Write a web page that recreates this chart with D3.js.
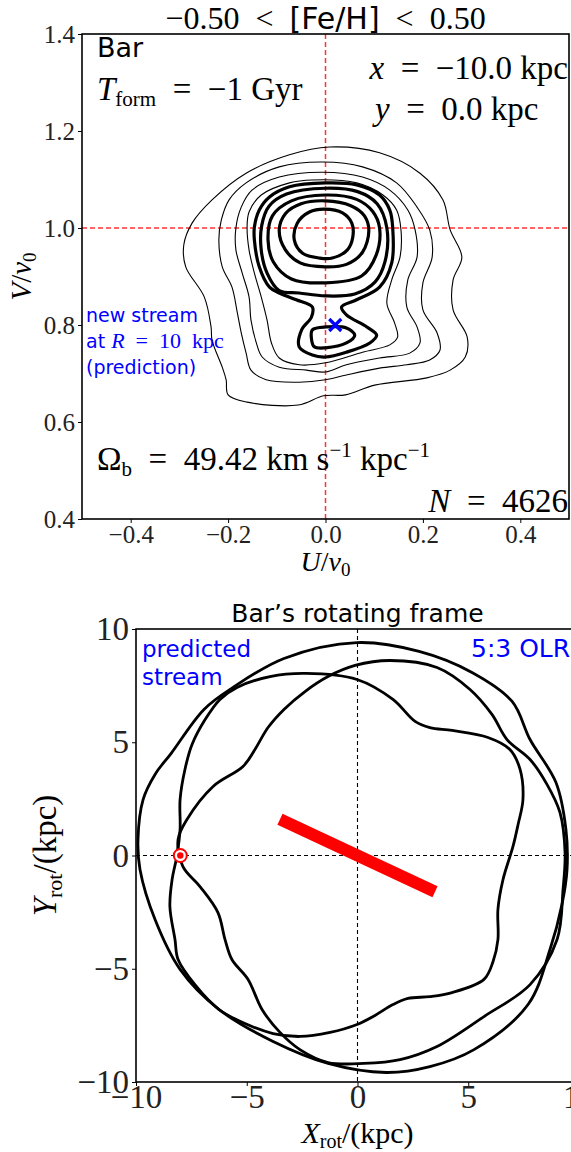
<!DOCTYPE html>
<html><head><meta charset="utf-8">
<script src="https://cdn.jsdelivr.net/npm/d3@7"></script>
<style>
html,body{margin:0;padding:0;background:#fff;}
svg{display:block;}
</style></head>
<body>
<svg id="fig" width="571" height="1152"></svg>
<script>
// ---------- Top panel data: velocity-plane contours (U/v0, V/v0) ----------
const uTicks = [-0.4, -0.2, 0.0, 0.2, 0.4];
const vTicks = [0.4, 0.6, 0.8, 1.0, 1.2, 1.4];
const thinContours = [
  [[0.008,1.167],[0.111,1.155],[0.194,1.113],[0.241,1.058],[0.256,0.996],[0.280,0.940],[0.262,0.893],[0.262,0.831],[0.291,0.775],[0.287,0.734],[0.256,0.707],[0.208,0.691],[0.101,0.676],[0.041,0.656],[-0.004,0.654],[-0.056,0.635],[-0.161,0.641],[-0.200,0.656],[-0.204,0.687],[-0.212,0.713],[-0.233,0.769],[-0.235,0.796],[-0.249,0.858],[-0.287,0.920],[-0.291,0.965],[-0.274,1.010],[-0.233,1.058],[-0.163,1.113],[-0.074,1.151]],
  [[-0.006,1.136],[0.076,1.126],[0.146,1.093],[0.188,1.043],[0.214,0.996],[0.219,0.940],[0.200,0.887],[0.200,0.831],[0.229,0.784],[0.235,0.748],[0.214,0.728],[0.167,0.718],[0.111,0.711],[0.043,0.697],[0,0.687],[-0.054,0.682],[-0.122,0.687],[-0.153,0.707],[-0.163,0.742],[-0.173,0.784],[-0.181,0.825],[-0.192,0.878],[-0.212,0.920],[-0.219,0.975],[-0.214,1.016],[-0.198,1.058],[-0.163,1.093],[-0.095,1.126]],
  [[-0.006,1.115],[0.076,1.105],[0.132,1.078],[0.169,1.037],[0.184,0.996],[0.188,0.940],[0.169,0.893],[0.167,0.837],[0.188,0.796],[0.194,0.763],[0.173,0.742],[0.111,0.732],[0.043,0.718],[0,0.703],[-0.039,0.707],[-0.095,0.713],[-0.130,0.734],[-0.142,0.763],[-0.153,0.810],[-0.157,0.858],[-0.171,0.907],[-0.184,0.955],[-0.184,1.000],[-0.173,1.043],[-0.151,1.078],[-0.095,1.105]],
  [[-0.027,1.099],[0.064,1.093],[0.118,1.068],[0.146,1.037],[0.155,0.996],[0.153,0.940],[0.136,0.893],[0.126,0.845],[0.142,0.804],[0.148,0.775],[0.132,0.759],[0.076,0.744],[0,0.722],[-0.054,0.718],[-0.095,0.732],[-0.111,0.763],[-0.120,0.810],[-0.132,0.858],[-0.146,0.907],[-0.157,0.955],[-0.161,1.000],[-0.157,1.033],[-0.132,1.068],[-0.074,1.093]]
];
const thickContours = [
  [[0,1.093],[0.064,1.089],[0.111,1.068],[0.132,1.037],[0.138,1.000],[0.136,0.928],[0.111,0.878],[0.064,0.852],[0.033,0.837],[0.043,0.821],[0.085,0.796],[0.105,0.779],[0.091,0.763],[0.043,0.744],[0,0.734],[-0.027,0.738],[-0.054,0.755],[-0.049,0.790],[-0.029,0.816],[-0.027,0.837],[-0.060,0.852],[-0.095,0.866],[-0.115,0.878],[-0.136,0.920],[-0.146,0.975],[-0.146,1.002],[-0.136,1.037],[-0.115,1.064],[-0.074,1.085]],
  [[0,1.082],[0.066,1.075],[0.106,1.050],[0.126,1.000],[0.122,0.930],[0.102,0.889],[0.060,0.864],[0,0.860],[-0.054,0.866],[-0.095,0.871],[-0.120,0.907],[-0.132,0.955],[-0.131,1.005],[-0.116,1.045],[-0.080,1.070]],
  [[-0.027,0.790],[0.002,0.796],[0.043,0.794],[0.060,0.779],[0.043,0.763],[0,0.753],[-0.023,0.755],[-0.029,0.773]],
  [[0,1.068],[0.064,1.059],[0.097,1.034],[0.111,1.000],[0.104,0.944],[0.074,0.901],[0,0.887],[-0.070,0.895],[-0.107,0.930],[-0.118,0.975],[-0.109,1.025],[-0.070,1.056]],
  [[0,1.056],[0.052,1.046],[0.080,1.025],[0.089,0.995],[0.076,0.950],[0.043,0.925],[0,0.920],[-0.052,0.928],[-0.083,0.956],[-0.095,0.996],[-0.082,1.030],[-0.050,1.050]],
  [[-0.002,1.039],[0.035,1.031],[0.054,1.010],[0.056,0.981],[0.045,0.955],[0.014,0.938],[-0.012,0.938],[-0.047,0.948],[-0.064,0.975],[-0.058,1.010],[-0.033,1.033]]
];
const streamPoint = [0.02, 0.80];
const refU = 0.0, refV = 1.0;

// ---------- Bottom panel data: orbit in bar's rotating frame (kpc) ----------
const xrotTicks = [-10, -5, 0, 5, 10];
const yrotTicks = [-10, -5, 0, 5, 10];
const orbitOuter = [[-0.02,9.40],[2.78,9.01],[5.17,8.08],[6.98,6.80],[7.79,5.12],[8.96,3.22],[9.41,1.15],[9.46,-0.62],[9.23,-2.16],[8.69,-4.15],[7.70,-6.58],[5.26,-8.57],[3.27,-9.32],[1.29,-9.58],[-1.33,-9.18],[-3.81,-8.21],[-6.25,-6.80],[-8.01,-5.03],[-9.14,-2.83],[-9.82,-0.62],[-9.91,0.71],[-9.68,2.47],[-9.14,3.58],[-8.42,4.50],[-6.93,6.45],[-5.62,7.42],[-3.32,8.70]];
const orbitMiddle = [[1.47,8.61],[3.59,8.30],[5.08,7.33],[6.07,6.23],[6.75,5.12],[7.79,4.24],[8.56,3.13],[9.14,1.90],[9.37,0.13],[9.28,-1.50],[9.01,-3.71],[7.79,-5.70],[5.71,-7.11],[3.59,-8.43],[1.92,-9.01],[0.29,-9.18],[-1.33,-9.14],[-2.60,-8.57],[-3.50,-7.81],[-4.31,-6.80],[-4.94,-5.47],[-5.67,-4.59],[-5.98,-3.71],[-6.30,-2.52],[-7.11,-1.37],[-7.88,-0.49],[-8.10,0.71],[-7.70,1.59],[-6.52,3.05],[-5.17,3.93],[-4.63,4.68],[-4.04,5.65],[-3.32,6.45],[-2.37,7.24],[-1.33,7.90],[-0.11,8.39]];
const orbitInner = [[-2.33,8.04],[-0.02,7.77],[1.60,6.89],[2.60,5.92],[3.27,5.65],[4.27,5.52],[5.89,5.21],[6.88,4.68],[7.34,3.80],[7.47,2.47],[7.25,1.37],[7.02,0.40],[6.57,-1.06],[6.34,-2.38],[6.34,-3.71],[6.12,-4.68],[5.71,-5.47],[4.27,-6.05],[3.27,-6.23],[2.28,-6.31],[1.60,-6.58],[0.79,-7.06],[-0.02,-7.46],[-1.24,-7.81],[-2.60,-7.99],[-3.81,-7.86],[-5.08,-7.42],[-6.25,-6.80],[-7.34,-5.70],[-8.10,-4.59],[-8.24,-3.71],[-8.47,-2.25],[-8.37,-1.06],[-8.15,0],[-8.01,1.15],[-8.01,2.47],[-7.79,3.80],[-7.47,4.90],[-6.88,6.00],[-6.21,6.89],[-5.44,7.42],[-3.95,7.90]];
const orbitLoops = [orbitOuter, orbitMiddle, orbitInner];
const barEnds = [[-3.5, 1.6], [3.5, -1.6]];
const sunPos = [-8.0, 0.0];

// ---------- drawing ----------
const svg = d3.select("#fig");
const serif = '"Liberation Serif","DejaVu Serif",serif';
const sans = '"DejaVu Sans","Noto Sans",sans-serif';
const EN = "\u2002";

function addText(g, x, y, parts, opts = {}) {
  const t = g.append("text").attr("x", x).attr("y", y).attr("font-size", opts.size || 26)
    .attr("text-anchor", opts.anchor || "start").attr("fill", opts.fill || "#000")
    .style("white-space", "pre");
  if (opts.rotate) t.attr("transform", `rotate(${opts.rotate},${x},${y})`);
  parts.forEach(p => {
    const s = t.append("tspan").text(p.t).attr("font-family", p.f === "s" ? sans : serif);
    if (p.i) s.attr("font-style", "italic");
    if (p.sz) s.attr("font-size", p.sz);
    if (p.dy) s.attr("dy", p.dy);
  });
  return t;
}
const minus = s => s.replace("-", "\u2212");

// Top panel scales
const xU = d3.scaleLinear().domain([-0.5, 0.5]).range([82, 569]);
const yV = d3.scaleLinear().domain([0.4, 1.4]).range([519, 34]);
const gTop = svg.append("g");

gTop.append("line").attr("x1", xU(refU)).attr("x2", xU(refU)).attr("y1", yV(1.4)).attr("y2", yV(0.4))
  .attr("stroke", "#f33").attr("stroke-width", 1.5).attr("stroke-dasharray", "5,3");
gTop.append("line").attr("x1", xU(-0.5)).attr("x2", xU(0.5)).attr("y1", yV(refV)).attr("y2", yV(refV))
  .attr("stroke", "#f33").attr("stroke-width", 1.5).attr("stroke-dasharray", "5,3");

const cline = d3.line().x(d => xU(d[0])).y(d => yV(d[1])).curve(d3.curveCatmullRomClosed.alpha(0.5));
gTop.selectAll("path.thin").data(thinContours).join("path").attr("class", "thin")
  .attr("d", cline).attr("fill", "none").attr("stroke", "#000").attr("stroke-width", 1.1);
gTop.selectAll("path.thick").data(thickContours).join("path").attr("class", "thick")
  .attr("d", cline).attr("fill", "none").attr("stroke", "#000").attr("stroke-width", 3.2);

const sx = xU(streamPoint[0]), sy = yV(streamPoint[1]);
gTop.append("path").attr("d", `M${sx-6},${sy-6}L${sx+6},${sy+6}M${sx-6},${sy+6}L${sx+6},${sy-6}`)
  .attr("stroke", "#0000ff").attr("stroke-width", 3.2).attr("fill", "none");

const axL = d3.axisLeft(yV).tickValues(vTicks).tickFormat(d3.format(".1f")).tickSize(4).tickPadding(3);
const axB = d3.axisBottom(xU).tickValues(uTicks).tickFormat(d => minus(d3.format(".1f")(d))).tickSize(4).tickPadding(3);
const gL = gTop.append("g").attr("transform", `translate(${xU(-0.5)},0)`).call(axL);
const gB = gTop.append("g").attr("transform", `translate(0,${yV(0.4)})`).call(axB);
[gL, gB].forEach(g => {
  g.select(".domain").remove();
  g.selectAll("text").attr("font-family", serif).attr("font-size", 25).attr("fill", "#222");
  g.selectAll("line").attr("stroke", "#000").attr("stroke-width", 1);
});
gB.selectAll("text").attr("dy", "0.68em");
gTop.append("rect").attr("x", xU(-0.5)).attr("y", yV(1.4)).attr("width", xU(0.5) - xU(-0.5)).attr("height", yV(0.4) - yV(1.4))
  .attr("fill", "none").attr("stroke", "#000").attr("stroke-width", 1.6);

addText(gTop, xU(0), 29, [{t:"\u22120.50" + EN + "<" + EN}, {t:"[Fe/H]", f:"s", sz:30}, {t:EN + "<" + EN + "0.50"}], {anchor:"middle", size:32});
addText(gTop, 97, 57, [{t:"Bar", f:"s"}], {size:27});
addText(gTop, 97, 100, [{t:"T", i:1}, {t:"form", sz:21, dy:6}, {t:EN + "=" + EN + "\u22121 Gyr", dy:-6}], {size:33});
addText(gTop, 568, 79, [{t:"x", i:1}, {t:EN + "=" + EN + "\u221210.0 kpc"}], {anchor:"end", size:33});
addText(gTop, 375, 120, [{t:"y", i:1}, {t:EN + "=" + EN + "0.0 kpc"}], {size:33});
addText(gTop, 97, 470, [{t:"\u03a9"}, {t:"b", sz:21, dy:6}, {t:EN + "=" + EN + "49.42 km s", dy:-6}, {t:"\u22121", sz:21, dy:-13}, {t:" kpc", dy:13}, {t:"\u22121", sz:21, dy:-13}], {size:33});
addText(gTop, 568, 512, [{t:"N", i:1}, {t:EN + "=" + EN + "4626"}], {anchor:"end", size:33});
addText(gTop, 86, 322, [{t:"new stream", f:"s"}], {size:19, fill:"#0000ff"});
addText(gTop, 86, 348, [{t:"at ", f:"s"}, {t:"R", i:1, sz:22}, {t:EN + "=" + EN + "10" + EN + "kpc", sz:22}], {size:19, fill:"#0000ff"});
addText(gTop, 86, 374, [{t:"(prediction)", f:"s"}], {size:19, fill:"#0000ff"});
addText(gTop, 31, yV(0.9), [{t:"V", i:1}, {t:"/"}, {t:"v", i:1}, {t:"0", sz:19, dy:5}], {anchor:"middle", size:29, rotate:-90});
addText(gTop, xU(0), 571, [{t:"U", i:1}, {t:"/"}, {t:"v", i:1}, {t:"0", sz:19, dy:5}], {anchor:"middle", size:28});

// ---------- Bottom panel ----------
const xR = d3.scaleLinear().domain([-10, 10]).range([136, 579]);
const yR = d3.scaleLinear().domain([-10, 10]).range([1082, 629]);
const gBot = svg.append("g");
gBot.append("line").attr("x1", xR(0)).attr("x2", xR(0)).attr("y1", yR(10)).attr("y2", yR(-10))
  .attr("stroke", "#000").attr("stroke-width", 1.1).attr("stroke-dasharray", "4,3");
gBot.append("line").attr("x1", xR(-10)).attr("x2", xR(10)).attr("y1", yR(0)).attr("y2", yR(0))
  .attr("stroke", "#000").attr("stroke-width", 1.1).attr("stroke-dasharray", "4,3");
const oline = d3.line().x(d => xR(d[0])).y(d => yR(d[1])).curve(d3.curveCatmullRomClosed.alpha(0.5));
gBot.selectAll("path.orb").data(orbitLoops).join("path").attr("class", "orb")
  .attr("d", oline).attr("fill", "none").attr("stroke", "#000").attr("stroke-width", 2.8);
gBot.append("line").attr("x1", xR(barEnds[0][0])).attr("y1", yR(barEnds[0][1]))
  .attr("x2", xR(barEnds[1][0])).attr("y2", yR(barEnds[1][1]))
  .attr("stroke", "#ff0000").attr("stroke-width", 12);
gBot.append("circle").attr("cx", xR(sunPos[0])).attr("cy", yR(sunPos[1])).attr("r", 6.5)
  .attr("fill", "#fff").attr("stroke", "#ff0000").attr("stroke-width", 2);
gBot.append("circle").attr("cx", xR(sunPos[0])).attr("cy", yR(sunPos[1])).attr("r", 3.2).attr("fill", "#ff0000");

const axL2 = d3.axisLeft(yR).tickValues(yrotTicks).tickFormat(d => minus(String(d))).tickSize(4).tickPadding(3);
const axB2 = d3.axisBottom(xR).tickValues(xrotTicks).tickFormat(d => minus(String(d))).tickSize(4).tickPadding(2);
const gL2 = gBot.append("g").attr("transform", `translate(${xR(-10)},0)`).call(axL2);
const gB2 = gBot.append("g").attr("transform", `translate(0,${yR(-10)})`).call(axB2);
[gL2, gB2].forEach(g => {
  g.select(".domain").remove();
  g.selectAll("text").attr("font-family", serif).attr("font-size", 33).attr("fill", "#222");
  g.selectAll("line").attr("stroke", "#000").attr("stroke-width", 1);
});
gB2.selectAll("text").attr("dy", "0.62em");
gBot.append("rect").attr("x", xR(-10)).attr("y", yR(10)).attr("width", xR(10) - xR(-10)).attr("height", yR(-10) - yR(10))
  .attr("fill", "none").attr("stroke", "#000").attr("stroke-width", 1.6);

addText(gBot, xR(0), 622, [{t:"Bar\u2019s rotating frame", f:"s"}], {anchor:"middle", size:25});
addText(gBot, 142, 657, [{t:"predicted", f:"s"}], {size:23, fill:"#0000ff"});
addText(gBot, 142, 685, [{t:"stream", f:"s"}], {size:23, fill:"#0000ff"});
addText(gBot, 471, 657, [{t:"5:3 OLR", f:"s"}], {size:25, fill:"#0000ff"});
addText(gBot, 56, yR(0), [{t:"Y", i:1}, {t:"rot", sz:22, dy:6}, {t:"/(kpc)", dy:-6}], {anchor:"middle", size:33, rotate:-90});
addText(gBot, xR(0), 1143, [{t:"X", i:1}, {t:"rot", sz:20, dy:5}, {t:"/(kpc)", dy:-5}], {anchor:"middle", size:30});
</script>
</body></html>
